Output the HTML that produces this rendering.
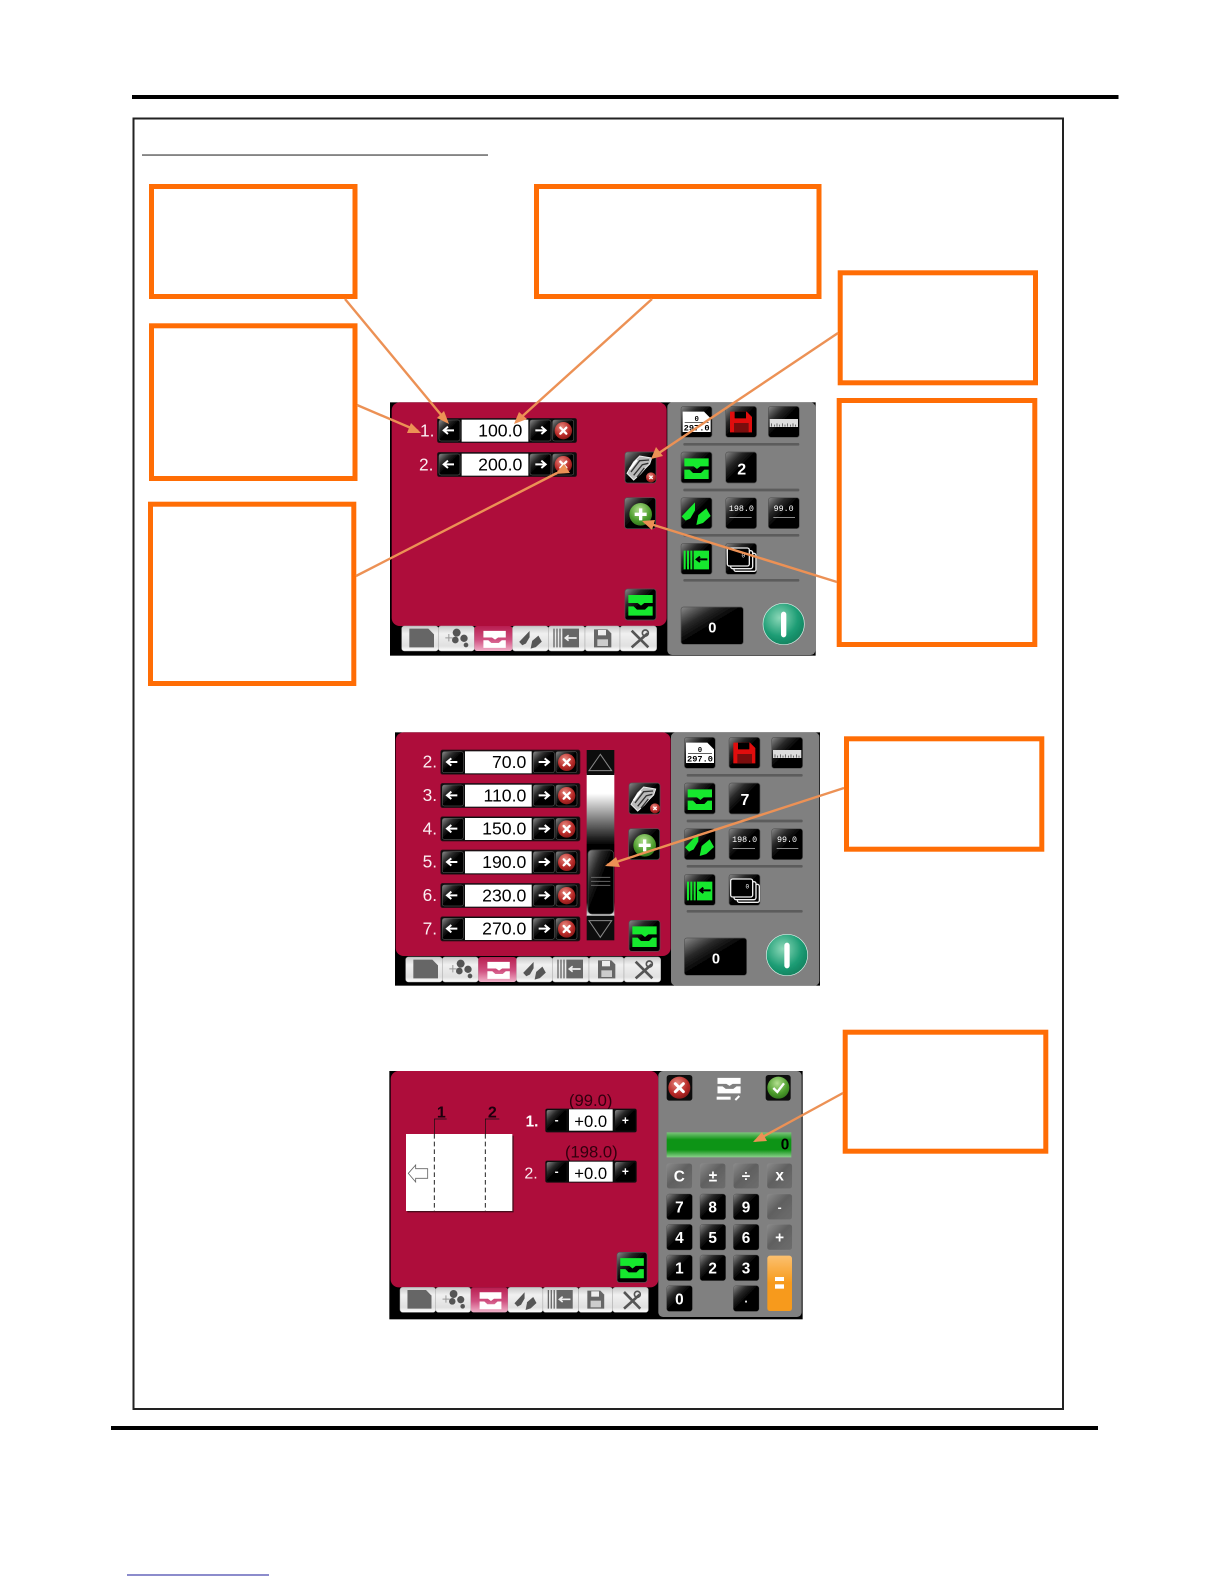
<!DOCTYPE html>
<html lang="en"><head><meta charset="utf-8"><title>Diagram</title>
<style>html,body{margin:0;padding:0;background:#fff}svg{display:block}
text{font-family:"Liberation Sans",sans-serif}.m{font-family:"Liberation Mono",monospace}</style></head>
<body>
<svg xmlns="http://www.w3.org/2000/svg" width="1224" height="1584" viewBox="0 0 1224 1584">
<defs>
<filter id="soft" x="0" y="0" width="1" height="1"><feGaussianBlur stdDeviation=".6"/></filter>
<linearGradient id="btn" x1="0" y1="0" x2="1" y2="1"><stop offset="0" stop-color="#8a8a8a"/><stop offset=".28" stop-color="#2a2a2a"/><stop offset=".5" stop-color="#000"/></linearGradient>
<linearGradient id="gkey" x1="0" y1="0" x2="1" y2="1"><stop offset="0" stop-color="#8c8c8c"/><stop offset=".45" stop-color="#606060"/><stop offset="1" stop-color="#6e6e6e"/></linearGradient>
<linearGradient id="tabg" x1="0" y1="0" x2="0" y2="1"><stop offset="0" stop-color="#c8c8c8"/><stop offset=".3" stop-color="#f0f0f0"/><stop offset=".8" stop-color="#e0e0e0"/><stop offset="1" stop-color="#fff"/></linearGradient>
<linearGradient id="pink" x1="0" y1="0" x2="0" y2="1"><stop offset="0" stop-color="#b81e50"/><stop offset=".55" stop-color="#d05080"/><stop offset="1" stop-color="#f0b0c8"/></linearGradient>
<linearGradient id="scr" x1="0" y1="0" x2="0" y2="1"><stop offset="0" stop-color="#fff"/><stop offset=".14" stop-color="#fff"/><stop offset=".5" stop-color="#000"/><stop offset=".9" stop-color="#000"/><stop offset="1" stop-color="#fff"/></linearGradient>
<linearGradient id="disp" x1="0" y1="0" x2="0" y2="1"><stop offset="0" stop-color="#7cc47c"/><stop offset=".3" stop-color="#0e9414"/><stop offset=".7" stop-color="#0e9414"/><stop offset="1" stop-color="#8ed08e"/></linearGradient>
<linearGradient id="orng" x1="0" y1="0" x2="0" y2="1"><stop offset="0" stop-color="#fbc070"/><stop offset=".5" stop-color="#f79a1a"/><stop offset="1" stop-color="#f79a1a"/></linearGradient>
<radialGradient id="red" cx=".4" cy=".3" r=".8"><stop offset="0" stop-color="#e88a80"/><stop offset=".6" stop-color="#b82a28"/><stop offset="1" stop-color="#7a1414"/></radialGradient>
<radialGradient id="grn" cx=".45" cy=".3" r=".8"><stop offset="0" stop-color="#b4e090"/><stop offset=".6" stop-color="#4c9c2c"/><stop offset="1" stop-color="#2a6a18"/></radialGradient>
<radialGradient id="teal" cx=".4" cy=".35" r=".75"><stop offset="0" stop-color="#8cd8b8"/><stop offset=".6" stop-color="#1c9c74"/><stop offset="1" stop-color="#0f7a58"/></radialGradient>

<path id="tp" d="M10 18H83V42H58L48 50 38 42H10ZM10 52H26L36 62H60L70 52H83V80H10Z"/>
<g id="bl"><path d="M2 56 42 14V38L28 62 14 69Z"/><path d="M46 82 52 52 76 32 89 55 66 76Z"/></g>
<rect id="b" width="93" height="93" rx="8" fill="url(#btn)" stroke="#555" stroke-width="2"/>
<rect id="sb" width="63" height="63" rx="6" fill="url(#btn)" stroke="#666" stroke-width="1.5"/>
<g id="xc"><circle r="26" fill="url(#red)"/><path d="M-9-9 9 9M9-9-9 9" stroke="#fff" stroke-width="7" stroke-linecap="round"/></g>

<g id="row">
<rect x="0" y="0" width="418" height="73" rx="6" fill="#111" stroke="#3a0a1c" stroke-width="2"/>
<use href="#sb" x="5" y="5"/>
<rect x="73" y="4" width="200" height="66" fill="#fff"/>
<use href="#sb" x="278" y="5"/>
<use href="#sb" x="346" y="5"/>
<path d="M19 36H50M32 25 19 36 32 47" fill="none" stroke="#fff" stroke-width="6"/>
<path d="M294 36H325M312 25 325 36 312 47" fill="none" stroke="#fff" stroke-width="6"/>
<use href="#xc" x="378" y="37"/>
</g>

<g id="tabs">
<g fill="url(#tabg)" stroke="#aaa" stroke-width="1.5">
<rect x="65" y="708" width="110" height="75" rx="8"/><rect x="175" y="708" width="108" height="75" rx="8"/>
<rect x="397" y="708" width="108" height="75" rx="8"/><rect x="505" y="708" width="110" height="75" rx="8"/>
<rect x="615" y="708" width="105" height="75" rx="8"/><rect x="720" y="708" width="110" height="75" rx="8"/>
</g>
<rect x="283" y="708" width="114" height="75" rx="8" fill="url(#pink)"/>
<path d="M88 716H145L162 733V772H88Z" fill="#666"/>
<g fill="#555"><circle cx="230" cy="728" r="12"/><circle cx="252" cy="745" r="11"/><circle cx="226" cy="750" r="10"/><circle cx="258" cy="765" r="7"/><path d="M196 742H218V745H196ZM205 732H208V754H205Z" fill="#999"/></g>
<use href="#tp" transform="translate(301 708) scale(.92 .82)" fill="#fff"/>
<use href="#bl" transform="translate(416 712) scale(.78)" fill="#555"/>
<path d="M520 716h4v56h-4zM529 716h4v56h-4zM538 716h4v56h-4zM547 716h50v56h-50z" fill="#666"/>
<path d="M558 744h32M566 736 556 744 566 752" fill="none" stroke="#eee" stroke-width="5"/>
<path d="M642 718H682L694 730V772H642Z" fill="#666"/><rect x="654" y="720" width="24" height="16" fill="#eee"/><rect x="652" y="748" width="32" height="20" fill="#ccc"/>
<path d="M755 722 805 772M803 730 755 772" stroke="#555" stroke-width="8"/><circle cx="796" cy="729" r="9" fill="none" stroke="#555" stroke-width="5"/>
</g>

<g id="rp">
<use href="#b" x="903" y="49"/><use href="#b" x="1037" y="49"/><use href="#b" x="1165" y="49"/>
<use href="#b" x="903" y="186"/><use href="#b" x="1037" y="186"/>
<use href="#b" x="903" y="323"/><use href="#b" x="1037" y="323"/><use href="#b" x="1165" y="323"/>
<use href="#b" x="903" y="460"/><use href="#b" x="1037" y="460"/>
<g fill="#5c5c5c"><rect x="910" y="159" width="348" height="8" rx="3"/><rect x="910" y="296" width="348" height="8" rx="3"/><rect x="910" y="432" width="348" height="8" rx="3"/><rect x="910" y="567" width="348" height="8" rx="3"/></g>
<path d="M908 65H972L992 85V126H908Z" fill="#fff"/><path d="M914 97H986" stroke="#000" stroke-width="2"/>
<path d="M1050 65H1100L1116 81V127H1050Z" fill="#e01010"/><rect x="1064" y="65" width="34" height="20" fill="#000"/><rect x="1062" y="99" width="44" height="28" fill="#7a0a0a"/>
<rect x="1169" y="87" width="85" height="24" fill="#ddd"/><path d="M1175 100v10M1183 104v6M1191 100v10M1199 104v6M1207 100v10M1215 104v6M1223 100v10M1231 104v6M1239 100v10M1247 104v6" stroke="#333" stroke-width="2"/>
<use href="#tp" x="903" y="187" fill="#16e82e"/>
<use href="#bl" x="903" y="323" fill="#16e82e"/>
<path d="M1048 382H1115M1180 382H1245" stroke="#ddd" stroke-width="2"/>
<path d="M911 482h6v56h-6zM921 482h6v56h-6zM931 482h6v56h-6z M941 482h46v56h-46z" fill="#16e82e"/><path d="M950 508h32M960 500 950 508 960 516" fill="none" stroke="#000" stroke-width="6"/>
<g fill="#000" stroke="#eee" stroke-width="4"><rect x="1062" y="490" width="66" height="54" rx="6"/><rect x="1052" y="482" width="66" height="54" rx="6"/><rect x="1042" y="474" width="66" height="54" rx="6"/></g>
<rect x="903" y="651" width="187" height="112" rx="8" fill="url(#btn)" stroke="#555" stroke-width="2"/>
<circle cx="1211" cy="702" r="62" fill="url(#teal)" stroke="#d8f0e8" stroke-width="2"/>
<rect x="1203" y="665" width="16" height="77" rx="8" fill="#fff"/>
</g>

<g id="delall"><use href="#b"/>
<path d="M6 64 26 30 44 12 80 18 74 36 60 50 46 66 26 84Z" fill="#bbb" stroke="#eee" stroke-width="3"/>
<path d="M18 60 44 26 72 24M26 70 52 38 70 34M36 76 58 48" fill="none" stroke="#333" stroke-width="4"/>
<path d="M14 52 36 24" stroke="#fff" stroke-width="6"/>
<circle cx="78" cy="76" r="15" fill="url(#red)"/><path d="M73 71 83 81M83 71 73 81" stroke="#fff" stroke-width="4"/></g>
<g id="plus"><use href="#b"/><circle cx="48" cy="50" r="34" fill="url(#grn)"/><path d="M48 32V68M30 50H66" stroke="#fff" stroke-width="10"/></g>
<g id="gbtn"><use href="#b"/><use href="#tp" fill="#16e82e"/></g>
</defs>

<rect width="1224" height="1584" fill="#fff"/>
<rect x="132" y="95" width="986.5" height="4" fill="#000"/>
<rect x="133.5" y="118.5" width="929.5" height="1290.5" fill="#fff" stroke="#222" stroke-width="2"/>
<rect x="142" y="154.3" width="346" height="1.5" fill="#666"/>
<rect x="111" y="1426" width="987" height="4" fill="#000"/>
<rect x="127" y="1574.5" width="142" height="1" fill="#1a1a9a"/>

<!-- Panel 1 -->
<g transform="translate(380 390) scale(.33333)" filter="url(#soft)">
<rect x="30" y="37" width="1277" height="760" fill="#000"/>
<rect x="35" y="37" width="825" height="671" rx="24" fill="#ae0a3a"/>
<rect x="862" y="37" width="444" height="758" rx="14" fill="#808080"/>
<use href="#tabs"/>
<use href="#rp"/>
<text x="950" y="93" class="m" font-size="22" fill="#000" font-weight="700" text-anchor="middle">0</text>
<text x="950" y="121" class="m" font-size="26" fill="#000" font-weight="700" text-anchor="middle">297.0</text>
<text x="1085" y="253" font-size="48" font-weight="700" fill="#fff" text-anchor="middle">2</text>
<text x="1084" y="363" class="m" font-size="25" fill="#fff" text-anchor="middle">198.0</text>
<text x="1211" y="363" class="m" font-size="25" fill="#fff" text-anchor="middle">99.0</text>
<text x="1090" y="503" class="m" font-size="18" fill="#fff" text-anchor="middle">0</text>
<text x="997" y="727" font-size="44" font-weight="700" fill="#fff" text-anchor="middle">0</text>
<use href="#row" x="172" y="85"/><use href="#row" x="172" y="187"/>
<text x="120" y="140" font-size="52" fill="#fbeef2">1.</text>
<text x="117" y="241" font-size="52" fill="#fbeef2">2.</text>
<text x="427" y="140" font-size="53" fill="#000" text-anchor="end">100.0</text>
<text x="427" y="241" font-size="53" fill="#000" text-anchor="end">200.0</text>
<use href="#delall" x="735" y="186"/>
<use href="#plus" x="734" y="323"/>
<use href="#gbtn" x="735" y="597"/>
</g>

<!-- Panel 2 -->
<g transform="translate(385 720) scale(.33333)" filter="url(#soft)">
<rect x="30" y="37" width="1275" height="760" fill="#000"/>
<rect x="32" y="37" width="825" height="671" rx="24" fill="#ae0a3a"/>
<rect x="858" y="37" width="445" height="760" rx="14" fill="#808080"/>
<use href="#tabs" x="-3" y="3"/>
<use href="#rp" x="-5" y="3"/>
<text x="945" y="96" class="m" font-size="22" fill="#000" font-weight="700" text-anchor="middle">0</text>
<text x="945" y="124" class="m" font-size="26" fill="#000" font-weight="700" text-anchor="middle">297.0</text>
<text x="1080" y="255" font-size="48" font-weight="700" fill="#fff" text-anchor="middle">7</text>
<text x="1079" y="366" class="m" font-size="25" fill="#fff" text-anchor="middle">198.0</text>
<text x="1206" y="366" class="m" font-size="25" fill="#fff" text-anchor="middle">99.0</text>
<text x="1087" y="506" class="m" font-size="18" fill="#fff" text-anchor="middle">0</text>
<text x="993" y="730" font-size="44" font-weight="700" fill="#fff" text-anchor="middle">0</text>
<use href="#row" x="167" y="90"/><use href="#row" x="167" y="190"/><use href="#row" x="167" y="290"/><use href="#row" x="167" y="390"/><use href="#row" x="167" y="490"/><use href="#row" x="167" y="590"/>
<g font-size="52" fill="#fbeef2"><text x="113" y="143">2.</text><text x="113" y="243">3.</text><text x="113" y="343">4.</text><text x="113" y="443">5.</text><text x="113" y="543">6.</text><text x="113" y="643">7.</text></g>
<g font-size="53" fill="#000" text-anchor="end"><text x="424" y="144">70.0</text><text x="424" y="244">110.0</text><text x="424" y="344">150.0</text><text x="424" y="444">190.0</text><text x="424" y="544">230.0</text><text x="424" y="644">270.0</text></g>
<rect x="605" y="160" width="83" height="430" fill="url(#scr)"/>
<rect x="605" y="90" width="83" height="75" fill="#111"/>
<path d="M646 103 680 152H612Z" fill="none" stroke="#888" stroke-width="3"/>
<rect x="605" y="587" width="83" height="74" fill="#111"/>
<path d="M646 652 680 602H612Z" fill="none" stroke="#888" stroke-width="3"/>
<rect x="609" y="390" width="77" height="192" rx="12" fill="url(#btn)" stroke="#444" stroke-width="2"/>
<path d="M618 472H676M618 484H676M618 496H676" stroke="#666" stroke-width="3"/>
<use href="#delall" x="732" y="189"/>
<use href="#plus" x="731" y="326"/>
<use href="#gbtn" x="732" y="601"/>
</g>

<!-- Panel 3 -->
<g transform="translate(380 1050) scale(.33333)" filter="url(#soft)">
<rect x="28" y="63" width="1240" height="745" fill="#000"/>
<rect x="32" y="63" width="803" height="649" rx="24" fill="#ae0a3a"/>
<rect x="835" y="63" width="430" height="738" rx="14" fill="#808080"/>
<use href="#tabs" transform="translate(-3.3 4) scale(.974 1)"/>
<rect x="82" y="257" width="319" height="230" fill="#4a0a1c"/>
<rect x="78" y="252" width="319" height="231" fill="#fff"/>
<path d="M163 252V483M316 252V483" stroke="#222" stroke-width="3" stroke-dasharray="14 9"/>
<path d="M163 252V207H200M316 252V207H358" fill="none" stroke="#111" stroke-width="2"/>
<path d="M85 370 107 345V356H143V385H107V396Z" fill="#fff" stroke="#666" stroke-width="2.5"/>
<g font-size="48" font-weight="700" fill="#1a020a" text-anchor="middle"><text x="184" y="202">1</text><text x="337" y="202">2</text></g>
<g font-size="50" fill="#300410" text-anchor="middle"><text x="632" y="168">(99.0)</text><text x="634" y="322">(198.0)</text></g>
<g>
<rect x="496" y="176" width="274" height="71" rx="6" fill="#111"/><rect x="496" y="332" width="274" height="66" rx="6" fill="#111"/>
<rect x="500" y="180" width="60" height="62" rx="6" fill="url(#btn)"/><rect x="705" y="180" width="62" height="62" rx="6" fill="url(#btn)"/>
<rect x="500" y="336" width="60" height="58" rx="6" fill="url(#btn)"/><rect x="705" y="336" width="62" height="58" rx="6" fill="url(#btn)"/>
<rect x="567" y="178" width="131" height="64" fill="#fff"/><rect x="567" y="335" width="131" height="60" fill="#fff"/>
</g>
<g font-size="36" font-weight="700" fill="#fff" text-anchor="middle"><text x="530" y="222">-</text><text x="736" y="223">+</text><text x="530" y="376">-</text><text x="736" y="377">+</text></g>
<g font-size="50" fill="#000" text-anchor="middle"><text x="632" y="231">+0.0</text><text x="632" y="387">+0.0</text></g>
<text x="437" y="230" font-size="46" font-weight="700" fill="#fff">1.</text>
<text x="433" y="385" font-size="48" fill="#fbeef2">2.</text>
<use href="#gbtn" transform="translate(711 607) scale(.97)"/>
<rect x="860" y="75" width="77" height="77" rx="8" fill="#111"/><circle cx="898" cy="113" r="33" fill="url(#red)"/><path d="M886 101 910 125M910 101 886 125" stroke="#fff" stroke-width="9" stroke-linecap="round"/>
<rect x="1157" y="75" width="75" height="77" rx="8" fill="#111"/><circle cx="1195" cy="113" r="33" fill="url(#grn)"/><path d="M1180 114 1192 126 1212 100" fill="none" stroke="#fff" stroke-width="7"/>
<use href="#tp" transform="translate(1003 70) scale(.95 .75)" fill="#fff"/><rect x="1010" y="140" width="42" height="9" fill="#fff"/><path d="M1066 150 1078 138" stroke="#fff" stroke-width="6"/>
<rect x="860" y="247" width="374" height="75" fill="url(#disp)"/>
<text x="1228" y="299" font-size="46" font-weight="700" fill="#000" text-anchor="end">0</text>
<g fill="url(#gkey)" stroke="#8a8a8a"><rect x="860" y="340" width="77" height="76" rx="8"/><rect x="960" y="340" width="77" height="76" rx="8"/><rect x="1060" y="340" width="77" height="76" rx="8"/><rect x="1161" y="340" width="76" height="76" rx="8"/><rect x="1161" y="432" width="76" height="77" rx="8"/><rect x="1161" y="523" width="76" height="77" rx="8"/></g>
<g fill="url(#btn)" stroke="#444"><rect x="860" y="432" width="77" height="77" rx="8"/><rect x="960" y="432" width="77" height="77" rx="8"/><rect x="1060" y="432" width="77" height="77" rx="8"/><rect x="860" y="523" width="77" height="77" rx="8"/><rect x="960" y="523" width="77" height="77" rx="8"/><rect x="1060" y="523" width="77" height="77" rx="8"/><rect x="860" y="615" width="77" height="77" rx="8"/><rect x="960" y="615" width="77" height="77" rx="8"/><rect x="1060" y="615" width="77" height="77" rx="8"/><rect x="860" y="707" width="77" height="77" rx="8"/><rect x="1060" y="707" width="77" height="77" rx="8"/></g>
<rect x="1162" y="617" width="74" height="166" rx="8" fill="url(#orng)"/>
<rect x="1185" y="681" width="27" height="12" fill="#fff"/><rect x="1185" y="703" width="27" height="13" fill="#fff"/>
<g font-size="46" font-weight="700" fill="#fff" text-anchor="middle">
<text x="898" y="394">C</text><text x="999" y="394">±</text><text x="1098" y="394">÷</text><text x="1199" y="392">x</text>
<text x="898" y="487">7</text><text x="998" y="487">8</text><text x="1098" y="487">9</text><text x="1199" y="485" font-size="36">-</text>
<text x="898" y="579">4</text><text x="998" y="579">5</text><text x="1098" y="579">6</text><text x="1199" y="577">+</text>
<text x="898" y="671">1</text><text x="998" y="671">2</text><text x="1098" y="671">3</text>
<text x="898" y="763">0</text><text x="1098" y="758" font-size="36">.</text>
</g>
</g>

<!-- Orange callout boxes -->
<g fill="#fff" stroke="#ff6d05" stroke-width="5">
<rect x="151.5" y="186.5" width="203.5" height="110"/>
<rect x="536.5" y="186.5" width="282.5" height="110"/>
<rect x="840.2" y="272.8" width="195.3" height="110"/>
<rect x="151.5" y="325.8" width="203.5" height="152.7"/>
<rect x="150.5" y="504.2" width="203.3" height="179.3"/>
<rect x="839.2" y="400.5" width="195.6" height="244"/>
<rect x="846.5" y="738.8" width="195.3" height="110.4"/>
<rect x="845.2" y="1032.2" width="200.6" height="119"/>
</g>

<!-- Connectors -->
<g stroke="#ec9155" stroke-width="2.4" fill="none">
<path d="M345 299 447 422"/><path d="M652 299 516 422"/><path d="M838 333 653 457"/>
<path d="M357 405 418 431"/><path d="M356 576 557 473"/><path d="M837 582 644 522"/>
<path d="M844 788 607 865"/><path d="M843 1093 755 1141"/>
</g>
<g fill="#ec9155">
<path d="M449 424 437 418 444 411Z"/>
<path d="M514 424 519 412 527 419Z"/>
<path d="M651 459 656 447 663 456Z"/>
<path d="M421 433 407 433 411 423Z"/>
<path d="M555 474 564 464 570 473Z"/>
<path d="M642 521 655 520 652 530Z"/>
<path d="M605 866 616 857 620 867Z"/>
<path d="M753 1142 762 1132 767 1141Z"/>
</g>
</svg>
</body></html>
